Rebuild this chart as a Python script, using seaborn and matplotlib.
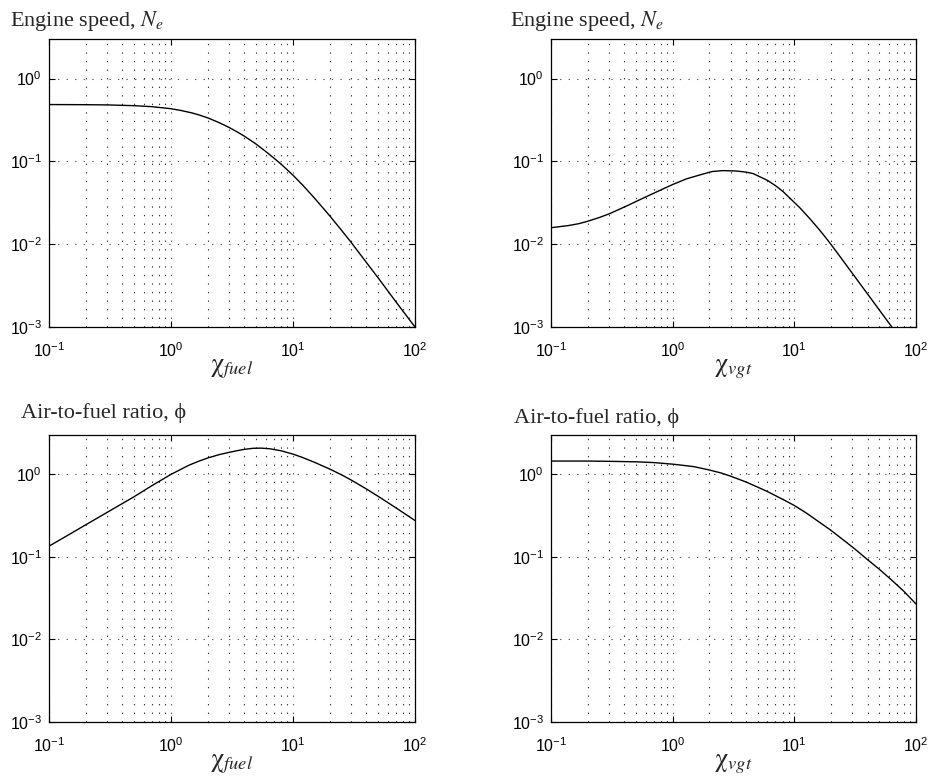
import matplotlib
matplotlib.use("Agg")
import matplotlib.pyplot as plt
import numpy as np
import seaborn as sns
from matplotlib.ticker import LogLocator, NullFormatter

sns.set_style("ticks")
plt.rcParams["font.family"] = ["Liberation Sans", "DejaVu Sans"]
plt.rcParams["mathtext.fontset"] = "stix"

# Engine speed response to the fuel input
fuel_x = [0.1, 0.2, 0.3, 0.5, 0.7, 1.0, 1.2, 1.5, 1.7, 2.0, 2.5, 3.0, 3.5,
          4.0, 4.5, 5.0, 6.0, 7.0, 8.0, 10, 12, 15, 20, 25, 30, 40, 50,
          70, 100]
ne_fuel = [0.485, 0.483, 0.480, 0.470, 0.457, 0.432, 0.412, 0.383, 0.363,
           0.335, 0.292, 0.256, 0.226, 0.201, 0.179, 0.161, 0.131, 0.109,
           0.0923, 0.068, 0.0517, 0.036, 0.022, 0.0147, 0.0105, 0.0060,
           0.0039, 0.0020, 0.0010]

# Engine speed response to the VGT input
vgt_x = [0.1, 0.14, 0.17, 0.2, 0.25, 0.3, 0.42, 0.58, 0.8, 1.0, 1.3, 1.7,
         2.1, 2.6, 3.3, 4.0, 4.6, 6.0, 7.0, 8.1, 11.1, 13.5, 16.3, 18, 20,
         25, 30, 40, 50, 70]
ne_vgt = [0.0158, 0.0168, 0.0177, 0.0189, 0.021, 0.0232, 0.029, 0.0363,
          0.0452, 0.0525, 0.0615, 0.069, 0.0753, 0.0773, 0.0765, 0.0742,
          0.0711, 0.059, 0.0509, 0.0430, 0.0275, 0.0201, 0.01454, 0.01214,
          0.00994, 0.0064, 0.00444, 0.0025, 0.0016, 0.00082]

# Air-to-fuel ratio response to the fuel input
phi_fuel_x = [0.1, 0.15, 0.2, 0.3, 0.5, 0.7, 1.0, 1.4, 1.7, 2.0, 2.5, 3.0,
              3.5, 4.0, 4.7, 5.5, 6.5, 8.0, 10, 12, 15, 20, 25, 30, 40,
              50, 70, 100]
phi_fuel = [0.135, 0.191, 0.245, 0.347, 0.538, 0.733, 1.00, 1.29, 1.45,
            1.58, 1.74, 1.85, 1.94, 2.01, 2.07, 2.08, 2.04, 1.93, 1.76,
            1.60, 1.40, 1.16, 0.988, 0.854, 0.665, 0.541, 0.392, 0.276]

# Air-to-fuel ratio response to the VGT input
phi_vgt_x = [0.1, 0.2, 0.3, 0.5, 0.7, 1.0, 1.2, 1.5, 2.0, 2.5, 3.0, 4.0,
             5.0, 6.0, 8.0, 10, 12.6, 15.8, 20, 25.1, 31.6, 39.8, 50.1,
             63.1, 79.4, 100]
phi_vgt = [1.45, 1.45, 1.44, 1.42, 1.39, 1.33, 1.29, 1.24, 1.13, 1.04,
           0.95, 0.81, 0.70, 0.62, 0.50, 0.42, 0.339, 0.268, 0.21, 0.162,
           0.124, 0.0931, 0.0706, 0.0524, 0.0384, 0.0269]

W, H = 933, 781
fig = plt.figure(figsize=(W / 100, H / 100), dpi=100)


def add_axes_px(left, top, right, bottom):
    return fig.add_axes([left / W, 1 - bottom / H,
                         (right - left) / W, (bottom - top) / H])


dotted = (0, (1.2, 6.5))
serif = ["Liberation Serif", "DejaVu Serif"]

panels = [
    dict(box=(49, 39, 415, 327), x=fuel_x, y=ne_fuel,
         xlabel=r"$\mathrm{\chi}_{fuel}$", title=r"Engine speed, $N_e$",
         tpos=(10, 26)),
    dict(box=(551, 39, 916, 327), x=vgt_x, y=ne_vgt,
         xlabel=r"$\mathrm{\chi}_{vgt}$", title=r"Engine speed, $N_e$",
         tpos=(510, 26)),
    dict(box=(49, 435, 415, 722), x=phi_fuel_x, y=phi_fuel,
         xlabel=r"$\mathrm{\chi}_{fuel}$", title="Air-to-fuel ratio, \u03d5",
         tpos=(21, 418)),
    dict(box=(551, 435, 916, 722), x=phi_vgt_x, y=phi_vgt,
         xlabel=r"$\mathrm{\chi}_{vgt}$", title="Air-to-fuel ratio, \u03d5",
         tpos=(514, 423)),
]

for p in panels:
    ax = add_axes_px(*p["box"])
    ax.set_xscale("log")
    ax.set_yscale("log")
    sns.lineplot(x=p["x"], y=p["y"], ax=ax, color="black", linewidth=1.0)
    ax.set_xlim(0.1, 100)
    ax.set_ylim(1e-3, 3)

    ax.xaxis.set_major_locator(LogLocator(base=10, numticks=10))
    ax.xaxis.set_minor_locator(LogLocator(base=10, subs=np.arange(2, 10),
                                          numticks=20))
    ax.xaxis.set_minor_formatter(NullFormatter())
    ax.yaxis.set_major_locator(LogLocator(base=10, numticks=10))
    ax.yaxis.set_minor_locator(LogLocator(base=10, subs=np.arange(2, 10),
                                          numticks=20))
    ax.yaxis.set_minor_formatter(NullFormatter())

    ax.grid(True, which="major", axis="both", linestyle=dotted,
            color="0.35", linewidth=0.8)
    ax.grid(True, which="minor", axis="x", linestyle=dotted,
            color="0.2", linewidth=0.8)
    ax.set_axisbelow(True)

    ax.tick_params(which="major", direction="in", length=4, width=0.8,
                   top=True, right=True, labelsize=11.5, colors="black")
    ax.tick_params(axis="x", which="major", pad=10)
    ax.tick_params(axis="y", which="major", pad=5)
    ax.tick_params(which="minor", length=0)
    for s in ax.spines.values():
        s.set_visible(True)
        s.set_linewidth(0.9)
        s.set_color("black")

    ax.set_xlabel(p["xlabel"], fontsize=19, labelpad=-2)
    ax.set_ylabel("")
    fig.text(p["tpos"][0] / W, 1 - p["tpos"][1] / H, p["title"],
             family=serif, fontsize=16, ha="left", va="baseline")

fig.savefig("out.png", dpi=100)
